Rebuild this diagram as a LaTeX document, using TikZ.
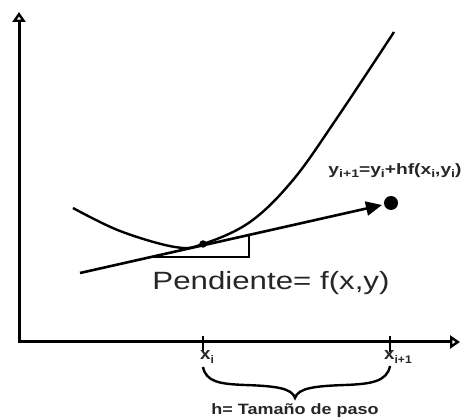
\documentclass[tikz,border=0pt]{standalone}
\usepackage{fontspec}
\usepackage{graphicx}
\setmainfont{Liberation Sans}
\usetikzlibrary{arrows.meta}
\newcommand{\sz}[1]{\fontsize{#1}{#1}\selectfont}
\newcommand{\subx}[1]{\raisebox{-0.35ex}{\sz{11}#1}}
\tikzset{
  axis/.style={line width=3pt, -{Triangle[open,length=10pt,width=13pt,line width=2.4pt]}},
  curveline/.style={line width=2.4pt},
  thin/.style={line width=2.2pt},
  tick/.style={line width=2.2pt},
  lbl/.style={inner sep=0pt, text=black!85},
}
\begin{document}
\begin{tikzpicture}[x=1pt,y=-1pt]
\useasboundingbox (0,0) rectangle (466,419);
% axes
\coordinate (O) at (19,342);
\coordinate (ytop) at (19,12);
\coordinate (xend) at (460,342);
\draw[axis] (O) -- (ytop);
\draw[axis] ([xshift=-1.5pt]O) -- (xend);
% ticks
\coordinate (xi) at (203,342);
\coordinate (xj) at (390,342);
\draw[tick] ([yshift=-10pt]xi) -- ([yshift=6pt]xi);
\draw[tick] ([yshift=-10pt]xj) -- ([yshift=6pt]xj);
% curve
\draw[curveline] plot[smooth, tension=0.6] coordinates {(73,208) (120,231) (175,247) (203,244) (250,222) (293,180) (337,118) (394,32)};
% tangent
\coordinate (tstart) at (80,273);
\coordinate (ttip) at (382,205);
\node[circle, fill=black, inner sep=0pt, minimum size=7.5pt] (P) at (203,244) {};
\node[circle, fill=black, inner sep=0pt, minimum size=14pt] (Q) at (391,203) {};
\draw[line width=2.6pt, -{Triangle[length=16pt,width=14pt]}] (tstart) -- (ttip);
% slope triangle
\coordinate (ta) at (151,257);
\coordinate (tb) at (249,257);
\coordinate (tc) at (249,235);
\draw[thin] (ta) -- (tb) -- (tc);
% labels
\node[lbl] (pend) at (271,283) {\scalebox{1.25}[1]{\sz{25}Pendiente= f(x,y)}};
\node[lbl] (ylab) at (395,171) {\scalebox{1.28}[1]{\sz{15}\bfseries y\subx{i+1}=y\subx{i}+hf(x\subx{i},y\subx{i})}};
\node[lbl, anchor=center] (lxi) at (207,357) {\scalebox{1.1}[1]{\sz{17}\bfseries x\subx{i}}};
\node[lbl, anchor=west] (lxj) at (384,357) {\scalebox{1.1}[1]{\sz{17}\bfseries x\subx{i+1}}};
% brace
\draw[line width=2.4pt] (203,367) .. controls (206,382) and (220,384) .. (245,385)
  .. controls (275,386) and (292,388) .. (295,398)
  .. controls (298,388) and (315,386) .. (345,385)
  .. controls (370,384) and (387,382) .. (390,366);
\node[lbl] (hlab) at (295,411) {\scalebox{1.2}[1]{\sz{15}\bfseries h= Tamaño de paso}};
\end{tikzpicture}
\end{document}
